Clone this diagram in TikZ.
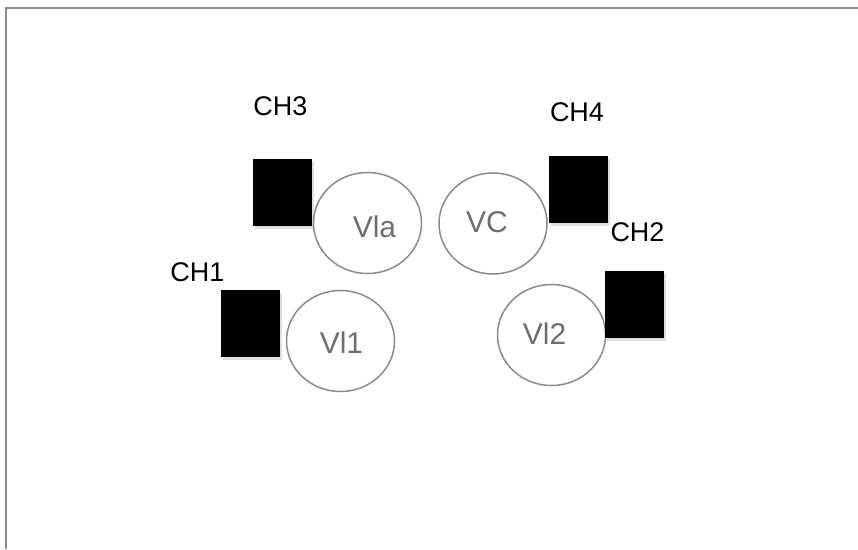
\documentclass[tikz,border=0pt]{standalone}
\usepackage{fontspec}
\setmainfont{Liberation Sans}
\usetikzlibrary{shapes.geometric,shadows}

\definecolor{ringgray}{HTML}{8A8A8A}
\definecolor{namegray}{HTML}{6E6E6E}
\definecolor{framegray}{HTML}{8C8C8C}

\tikzstyle{chan} = [rectangle, minimum width=59pt, minimum height=67pt,
inner sep=0pt, fill=black, drop shadow={shadow xshift=1.5pt,
shadow yshift=-3pt, opacity=0.25}]
\tikzstyle{voice} = [ellipse, minimum width=108pt, minimum height=101pt,
inner sep=0pt, draw=ringgray, line width=1.5pt]
\tikzstyle{voicename} = [inner sep=0pt, text=namegray,
font=\fontsize{30}{34}\selectfont]
\tikzstyle{chlabel} = [inner sep=0pt, font=\fontsize{27}{31}\selectfont]
\tikzstyle{frame} = [draw=framegray, line width=2pt]

\begin{document}
\begin{tikzpicture}[x=1pt, y=-1pt]
    \useasboundingbox (0,0) rectangle (858,549);
    \draw [frame] (6,549) -- (6,8) -- (858,8);

    \node (vla) [voice] at (367.5,223) {};
    \node (vl1) [voice] at (340.5,341) {};
    \node (vc) [voice] at (493,223.5) {};
    \node (vl2) [voice] at (551.5,335) {};
    \node (vlaname) [voicename, xshift=7pt, yshift=-4pt] at (vla) {Vla};
    \node (vl1name) [voicename, xshift=1pt, yshift=-2pt] at (vl1) {Vl1};
    \node (vcname) [voicename, xshift=-6pt, yshift=1pt] at (vc) {VC};
    \node (vl2name) [voicename, xshift=-7pt, yshift=1pt] at (vl2) {Vl2};

    \node (ch3) [chan] at (282.5,192.5) {};
    \node (ch1) [chan] at (250.5,323.5) {};
    \node (ch4) [chan] at (578.5,189.5) {};
    \node (ch2) [chan] at (634.5,304.5) {};

    \node (ch3txt) [chlabel] at (280.5,106.5) {CH3};
    \node (ch1txt) [chlabel] at (197.5,272) {CH1};
    \node (ch4txt) [chlabel] at (577,112) {CH4};
    \node (ch2txt) [chlabel] at (637.5,232) {CH2};
\end{tikzpicture}
\end{document}
